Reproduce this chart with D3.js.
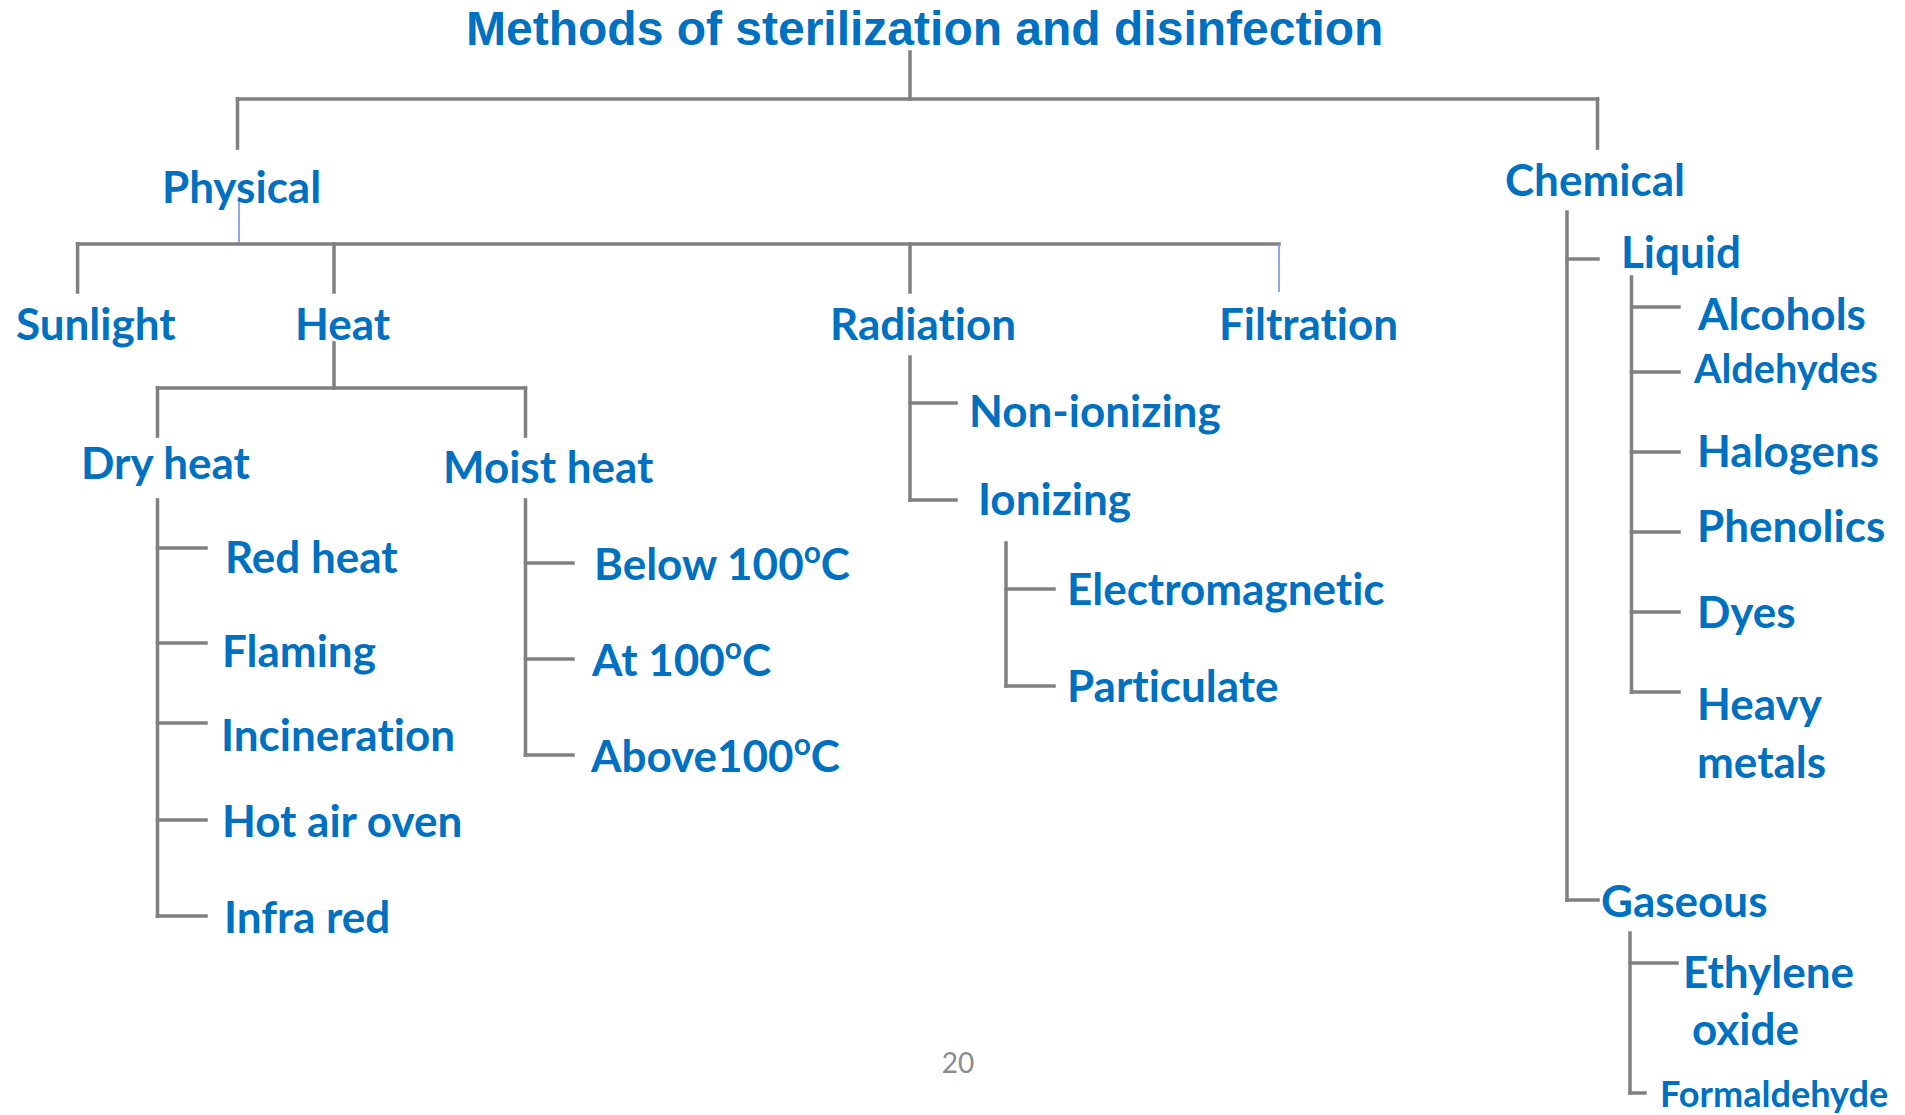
<!DOCTYPE html>
<html>
<head>
<meta charset="utf-8">
<script src="https://cdn.jsdelivr.net/npm/d3@7"></script>
<style>
  body { margin: 0; background: #fff; }
  svg { display: block; }
  .title { font-family: "Liberation Sans", Arial, sans-serif; font-weight: 700; fill: #0070C0; }
  .label { font-family: Lato, "Open Sans", sans-serif; font-weight: 700; fill: #0070C0;
           font-variant-ligatures: none; font-feature-settings: "liga" 0, "clig" 0, "dlig" 0; }
  .page { font-family: Lato, "Open Sans", sans-serif; fill: #8c8c8c; }
</style>
</head>
<body>
<svg></svg>
<script>
// --- data: the tree, as small named lists ---
const title = "Methods of sterilization and disinfection";
const pageNumber = "20";
const branches = ["Physical", "Chemical"];
const physicalMethods = ["Sunlight", "Heat", "Radiation", "Filtration"];
const heatTypes = ["Dry heat", "Moist heat"];
const dryHeat = ["Red heat", "Flaming", "Incineration", "Hot air oven", "Infra red"];
const moistHeat = ["Below 100^oC", "At 100^oC", "Above100^oC"];
const radiationTypes = ["Non-ionizing", "Ionizing"];
const ionizingTypes = ["Electromagnetic", "Particulate"];
const chemicalForms = ["Liquid", "Gaseous"];
const liquidAgents = ["Alcohols", "Aldehydes", "Halogens", "Phenolics", "Dyes", "Heavy metals"];
const gaseousAgents = ["Ethylene oxide", "Formaldehyde"];

// which list hangs under which node, and how it is drawn
const groups = [
  {parent: "root", children: branches, kind: "bracket"},
  {parent: "Physical", children: physicalMethods, kind: "bracket"},
  {parent: "Heat", children: heatTypes, kind: "bracket"},
  {parent: "Dry heat", children: dryHeat, kind: "side"},
  {parent: "Moist heat", children: moistHeat, kind: "side"},
  {parent: "Radiation", children: radiationTypes, kind: "side"},
  {parent: "Ionizing", children: ionizingTypes, kind: "side"},
  {parent: "Chemical", children: chemicalForms, kind: "side"},
  {parent: "Liquid", children: liquidAgents, kind: "side"},
  {parent: "Gaseous", children: gaseousAgents, kind: "side"}
];

// --- layout (slide units, 1905 x 1115) ---
const width = 1905, height = 1115;
const fontSize = 44;

const bracketLayout = {
  "root":     {stem: 910, top: 52, bar: 99, bottom: 148},
  "Physical": {stem: 239, top: 197, bar: 244, bottom: 292, thin: true},
  "Heat":     {stem: 334, top: 343, bar: 388, bottom: 436}
};
const sideLayout = {
  "Dry heat":   {spine: 157.5, top: 500, tick: 206},
  "Moist heat": {spine: 525.5, top: 500, tick: 573},
  "Radiation":  {spine: 910, top: 357, tick: 956},
  "Ionizing":   {spine: 1006, top: 543, tick: 1054},
  "Chemical":   {spine: 1567, top: 212, tick: 1598},
  "Liquid":     {spine: 1631.5, top: 277, tick: 1679},
  "Gaseous":    {spine: 1630, top: 933, tick: 1677}
};
// x, y = label start / baseline; a = drop x (bracket) or tick y (side)
const nodeLayout = {
  "Physical":     {x: 162, y: 203, a: 237.5},
  "Chemical":     {x: 1505, y: 196, a: 1597.5},
  "Sunlight":     {x: 16, y: 340, a: 77.6},
  "Heat":         {x: 295, y: 340, a: 334},
  "Radiation":    {x: 830, y: 340, a: 910},
  "Filtration":   {x: 1219, y: 340, a: 1279, thin: true},
  "Dry heat":     {x: 81, y: 479, a: 157.5},
  "Moist heat":   {x: 443, y: 483, a: 525.5},
  "Red heat":     {x: 225, y: 573, a: 548},
  "Flaming":      {x: 222, y: 667, a: 643},
  "Incineration": {x: 221, y: 751, a: 723},
  "Hot air oven": {x: 222, y: 837, a: 820},
  "Infra red":    {x: 224, y: 933, a: 916},
  "Below 100^oC": {x: 594, y: 580, a: 563},
  "At 100^oC":    {x: 592, y: 676, a: 659},
  "Above100^oC":  {x: 591, y: 772, a: 755},
  "Non-ionizing": {x: 969, y: 427, a: 403},
  "Ionizing":     {x: 978, y: 515, a: 500},
  "Electromagnetic": {x: 1067, y: 605, a: 589},
  "Particulate":  {x: 1067, y: 702, a: 686},
  "Liquid":       {x: 1621, y: 268, a: 259},
  "Gaseous":      {x: 1601, y: 917, a: 900},
  "Alcohols":     {x: 1698, y: 330, a: 307},
  "Aldehydes":    {x: 1694, y: 383, a: 372, s: 0.9},
  "Halogens":     {x: 1697, y: 467, a: 452},
  "Phenolics":    {x: 1697, y: 542, a: 532},
  "Dyes":         {x: 1697, y: 628, a: 612},
  "Heavy metals": {x: 1697, y: 720, a: 692, wrap: 58, dx2: 0},
  "Ethylene oxide": {x: 1683, y: 988, a: 963, wrap: 57, dx2: 9},
  "Formaldehyde": {x: 1660, y: 1107, a: 1093, s: 0.82, tick: 1645}
};

const x = d3.scaleLinear().domain([0, 1905]).range([0, width]);
const y = d3.scaleLinear().domain([0, 1115]).range([0, height]);

const svg = d3.select("svg")
    .attr("width", width)
    .attr("height", height);

// --- connectors ---
let segs = [];
groups.forEach(function(g) {
  if (g.kind === "bracket") {
    const b = bracketLayout[g.parent];
    const xs = g.children.map(c => nodeLayout[c].a);
    segs.push({x1: b.stem, y1: b.top, x2: b.stem, y2: b.bar, thin: b.thin});
    segs.push({x1: d3.min(xs), y1: b.bar, x2: d3.max(xs), y2: b.bar});
    g.children.forEach(function(c) {
      const n = nodeLayout[c];
      segs.push({x1: n.a, y1: b.bar, x2: n.a, y2: b.bottom, thin: n.thin});
    });
  } else {
    const s = sideLayout[g.parent];
    const ys = g.children.map(c => nodeLayout[c].a);
    segs.push({x1: s.spine, y1: s.top, x2: s.spine, y2: d3.max(ys)});
    g.children.forEach(function(c) {
      const n = nodeLayout[c];
      segs.push({x1: s.spine, y1: n.a, x2: n.tick || s.tick, y2: n.a});
    });
  }
});

svg.append("g")
  .selectAll("line")
  .data(segs)
  .join("line")
    .attr("x1", d => x(d.x1))
    .attr("y1", d => y(d.y1))
    .attr("x2", d => x(d.x2))
    .attr("y2", d => y(d.y2))
    .attr("stroke", d => d.thin ? "#7f9fdc" : "#808080")
    .attr("stroke-width", d => d.thin ? 1.8 : 3.5)
    .attr("stroke-linecap", d => d.thin ? "butt" : "square");

// --- labels ---
const addLine = function(sel, str) {
  const parts = str.split("^");
  sel.append("tspan").text(parts[0]);
  if (parts[1]) {
    sel.append("tspan").attr("dy", -17).attr("font-size", "0.68em").text(parts[1][0]);
    sel.append("tspan").attr("dy", 17).text(parts[1].slice(1));
  }
};

const allNodes = groups.flatMap(g => g.children);

svg.append("g")
  .selectAll("text")
  .data(allNodes)
  .join("text")
    .attr("class", "label")
    .attr("x", d => x(nodeLayout[d].x))
    .attr("y", d => y(nodeLayout[d].y))
    .attr("font-size", d => fontSize * (nodeLayout[d].s || 1))
    .each(function(d) {
      const n = nodeLayout[d];
      const t = d3.select(this);
      if (n.wrap) {
        const words = d.split(" ");
        t.append("tspan").text(words[0]);
        t.append("tspan")
          .attr("x", x(n.x + n.dx2))
          .attr("dy", n.wrap)
          .text(words.slice(1).join(" "));
      } else {
        addLine(t, d);
      }
    });

svg.append("text")
    .attr("class", "title")
    .attr("x", x(466))
    .attr("y", y(45))
    .attr("font-size", 48)
    .text(title);

svg.append("text")
    .attr("class", "page")
    .attr("x", x(958))
    .attr("y", y(1073))
    .attr("text-anchor", "middle")
    .attr("font-size", 28)
    .text(pageNumber);
</script>
</body>
</html>
